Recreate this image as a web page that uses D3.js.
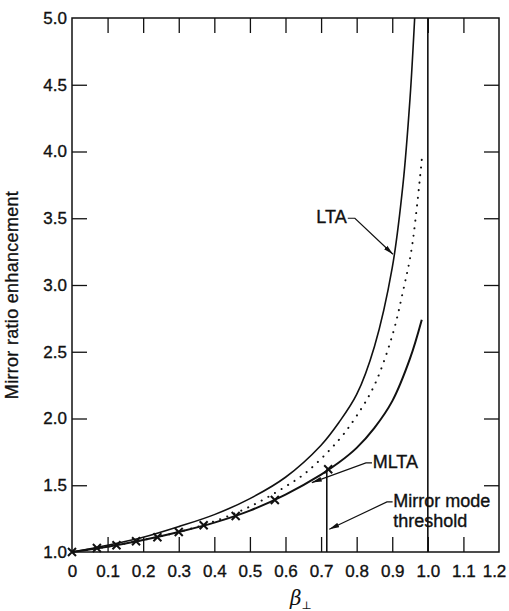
<!DOCTYPE html>
<html>
<head>
<meta charset="utf-8">
<script src="https://cdn.jsdelivr.net/npm/d3@7"></script>
<style>
  html, body { margin: 0; padding: 0; background: #fff; }
  text { font-family: "Liberation Sans", Arial, Helvetica, sans-serif; fill: #111; }
</style>
</head>
<body>
<div id="chart"></div>
<script>
// Mirror ratio enhancement vs beta (LTA / MLTA curves)

// Upper solid curve (LTA)
const ltaBeta  = [0, 0.1, 0.2, 0.3, 0.4, 0.5, 0.6, 0.7, 0.75, 0.8, 0.85, 0.9, 0.93, 0.95, 0.963];
const ltaValue = [1.0, 1.05, 1.11, 1.19, 1.28, 1.40, 1.56, 1.80, 1.97, 2.18, 2.54, 3.13, 3.75, 4.40, 5.0];

// Dotted middle curve
const dotBeta  = [0, 0.1, 0.2, 0.3, 0.4, 0.5, 0.6, 0.66, 0.75, 0.8, 0.85, 0.9, 0.93, 0.955, 0.983];
const dotValue = [1.0, 1.04, 1.09, 1.15, 1.23, 1.34, 1.49, 1.60, 1.84, 2.02, 2.25, 2.62, 2.95, 3.28, 3.94];

// Lower solid curve (MLTA)
const mltaBeta  = [0, 0.1, 0.2, 0.3, 0.4, 0.5, 0.6, 0.7, 0.75, 0.8, 0.85, 0.9, 0.95, 0.983];
const mltaValue = [1.0, 1.04, 1.09, 1.15, 1.22, 1.31, 1.43, 1.58, 1.67, 1.78, 1.93, 2.13, 2.45, 2.74];

// Cross markers along the MLTA curve
const crossBeta  = [0, 0.07, 0.125, 0.18, 0.24, 0.30, 0.37, 0.46, 0.57, 0.72];
const crossValue = [1.0, 1.03, 1.05, 1.08, 1.11, 1.15, 1.20, 1.27, 1.39, 1.62];

// Mirror mode threshold and beta = 1 lines
const thresholdBeta = 0.716;
const thresholdTop = 1.62;
const limitBeta = 1.0;

// Ticks
const xTicks = [0, 0.1, 0.2, 0.3, 0.4, 0.5, 0.6, 0.7, 0.8, 0.9, 1.0, 1.1, 1.2];
const yTicks = [1.0, 1.5, 2.0, 2.5, 3.0, 3.5, 4.0, 4.5, 5.0];

const svgWidth = 509;
const svgHeight = 611;
const plotLeft = 72, plotRight = 499, plotTop = 18, plotBottom = 552;
const tick = 15;

const svg = d3.select("#chart")
  .append("svg")
  .attr("width", svgWidth)
  .attr("height", svgHeight);

const x = d3.scaleLinear().domain([0, 1.2]).range([plotLeft, plotRight]);
const y = d3.scaleLinear().domain([1, 5]).range([plotBottom, plotTop]);

// arrow head
svg.append("defs").append("marker")
    .attr("id", "arrow")
    .attr("viewBox", "0 0 10 6")
    .attr("refX", 10)
    .attr("refY", 3)
    .attr("markerWidth", 10)
    .attr("markerHeight", 6)
    .attr("markerUnits", "userSpaceOnUse")
    .attr("orient", "auto")
  .append("path")
    .attr("d", "M0,0.6 L10,3 L0,5.4 Z")
    .attr("fill", "#111");

// Frame
svg.append("rect")
    .attr("x", plotLeft).attr("y", plotTop)
    .attr("width", plotRight - plotLeft).attr("height", plotBottom - plotTop)
    .attr("fill", "none")
    .attr("stroke", "#111")
    .attr("stroke-width", 1.5);

const fmtX = d => d === 0 ? "0" : d3.format(".1f")(d);

// Axes (ticks point inward)
const xAxis = svg.append("g")
  .attr("transform", `translate(0,${plotBottom})`)
  .call(d3.axisBottom(x).tickValues(xTicks).tickSize(-tick).tickPadding(13).tickFormat(fmtX));

svg.append("g")
  .attr("transform", `translate(0,${plotTop})`)
  .call(d3.axisTop(x).tickValues(xTicks.slice(1, -1)).tickSize(-tick).tickFormat(""));

const yAxis = svg.append("g")
  .attr("transform", `translate(${plotLeft},0)`)
  .call(d3.axisLeft(y).tickValues(yTicks).tickSize(-tick).tickPadding(5).tickFormat(d3.format(".1f")));

svg.append("g")
  .attr("transform", `translate(${plotRight},0)`)
  .call(d3.axisRight(y).tickValues(yTicks.slice(1, -1)).tickSize(-tick).tickFormat(""));

svg.selectAll(".domain").remove();
svg.selectAll(".tick line").attr("stroke", "#111").attr("stroke-width", 1.3);
svg.selectAll(".tick text")
    .attr("fill", "#111")
    .attr("stroke", "#111")
    .attr("stroke-width", 0.35)
    .style("font-size", "17px")
    .style("font-family", "'Liberation Sans', Arial, sans-serif");

// hide tick marks that fall on the frame corners
xAxis.selectAll(".tick").filter(d => d === 0 || d === 1.2).select("line").remove();
yAxis.selectAll(".tick").filter(d => d === 1 || d === 5).select("line").remove();
// last label sits against the page edge
xAxis.selectAll(".tick").filter(d => d === 1.2).select("text").attr("dx", -5);

// Axis titles
svg.append("text")
    .attr("transform", `translate(13,${(plotTop + plotBottom) / 2 + 10}) rotate(-90)`)
    .attr("text-anchor", "middle")
    .attr("dominant-baseline", "middle")
    .attr("stroke", "#111")
    .attr("stroke-width", 0.3)
    .style("font-size", "18px")
    .style("letter-spacing", "0.3px")
    .text("Mirror ratio enhancement");

const bl = svg.append("text")
    .attr("x", 290)
    .attr("y", 605)
    .style("font-family", "'DejaVu Serif', 'Liberation Serif', serif");
bl.append("tspan")
    .style("font-style", "italic")
    .style("font-size", "20px")
    .text("β");
bl.append("tspan")
    .attr("dy", 4)
    .style("font-size", "11px")
    .text("⊥");

// Curves
const line = d3.line()
    .x(d => x(d[0]))
    .y(d => y(d[1]))
    .curve(d3.curveCatmullRom.alpha(0.5));

svg.append("path")
    .datum(d3.zip(ltaBeta, ltaValue))
    .attr("fill", "none")
    .attr("stroke", "#111")
    .attr("stroke-width", 1.6)
    .attr("d", line);

svg.append("path")
    .datum(d3.zip(dotBeta, dotValue))
    .attr("fill", "none")
    .attr("stroke", "#111")
    .attr("stroke-width", 2)
    .attr("stroke-linecap", "round")
    .attr("stroke-dasharray", "0.1 7.5")
    .attr("d", line);

svg.append("path")
    .datum(d3.zip(mltaBeta, mltaValue))
    .attr("fill", "none")
    .attr("stroke", "#111")
    .attr("stroke-width", 2)
    .attr("d", line);

// Cross markers
const cs = 4;
svg.append("g")
  .selectAll("path")
  .data(d3.zip(crossBeta, crossValue))
  .join("path")
    .attr("d", d => {
      const px = x(d[0]), py = y(d[1]);
      return `M${px - cs},${py - cs}L${px + cs},${py + cs}M${px - cs},${py + cs}L${px + cs},${py - cs}`;
    })
    .attr("stroke", "#111")
    .attr("stroke-width", 2);

// Vertical lines
svg.append("line")
    .attr("x1", x(limitBeta)).attr("x2", x(limitBeta))
    .attr("y1", y(5)).attr("y2", y(1))
    .attr("stroke", "#111")
    .attr("stroke-width", 1.6);

svg.append("line")
    .attr("x1", x(thresholdBeta)).attr("x2", x(thresholdBeta))
    .attr("y1", y(thresholdTop)).attr("y2", y(1))
    .attr("stroke", "#111")
    .attr("stroke-width", 1.6);

// Annotations
const leader = d3.line().x(d => x(d[0])).y(d => y(d[1]));

function annotate(label, textPos, anchor, pts) {
  const t = svg.append("text")
      .attr("x", x(textPos[0]))
      .attr("y", y(textPos[1]))
      .attr("text-anchor", anchor)
      .attr("dominant-baseline", "middle")
      .attr("stroke", "#111")
      .attr("stroke-width", 0.35)
      .style("font-size", "18px");
  label.forEach((s, i) => {
    t.append("tspan")
      .attr("x", x(textPos[0]))
      .attr("dy", i === 0 ? 0 : 20)
      .text(s);
  });
  svg.append("path")
      .attr("d", leader(pts))
      .attr("fill", "none")
      .attr("stroke", "#111")
      .attr("stroke-width", 1.2)
      .attr("marker-end", "url(#arrow)");
}

annotate(["LTA"], [0.772, 3.50], "end",
  [[0.775, 3.50], [0.795, 3.50], [0.902, 3.23]]);

annotate(["MLTA"], [0.845, 1.667], "start",
  [[0.843, 1.667], [0.826, 1.667], [0.674, 1.52]]);

annotate(["Mirror mode", "threshold"], [0.903, 1.375], "start",
  [[0.901, 1.375], [0.885, 1.375], [0.723, 1.17]]);
</script>
</body>
</html>
